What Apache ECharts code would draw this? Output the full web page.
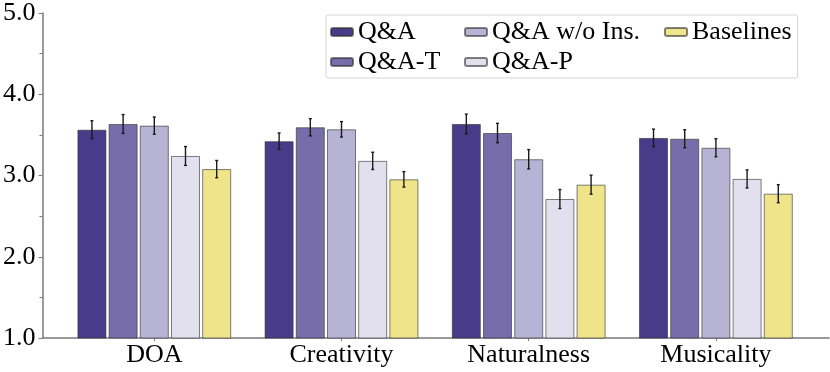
<!DOCTYPE html>
<html>
<head>
<meta charset="utf-8">
<script src="https://cdn.jsdelivr.net/npm/echarts@6/dist/echarts.min.js"></script>
<style>html,body{margin:0;padding:0;background:#fff}#c{width:830px;height:372px}</style>
</head>
<body>
<div id="c"></div>
<script>
const categories = ['DOA', 'Creativity', 'Naturalness', 'Musicality'];
const seriesNames = ['Q&A', 'Q&A-T', 'Q&A w/o Ins.', 'Q&A-P', 'Baselines'];
const seriesColors = ['#483c8a', '#776daa', '#b7b3d4', '#e2e0ee', '#efe48a'];
const qa       = [3.54, 3.40, 3.61, 3.44];
const qaT      = [3.61, 3.57, 3.50, 3.43];
const qaNoIns  = [3.59, 3.545, 3.18, 3.32];
const qaP      = [3.22, 3.16, 2.695, 2.94];
const baselines= [3.06, 2.935, 2.87, 2.76];
const qaErr       = [0.11, 0.10, 0.12, 0.107];
const qaTErr      = [0.115, 0.105, 0.118, 0.11];
const qaNoInsErr  = [0.105, 0.094, 0.118, 0.11];
const qaPErr      = [0.115, 0.105, 0.116, 0.11];
const baselinesErr= [0.105, 0.094, 0.116, 0.11];
const yTicks = [1, 2, 3, 4, 5];

const values = [qa, qaT, qaNoIns, qaP, baselines];
const errors = [qaErr, qaTErr, qaNoInsErr, qaPErr, baselinesErr];

const BAR_W = 0.155;   // fraction of band
const BAR_GAP = 0.075; // fraction of bar width
const FONT = 'Liberation Serif, Times New Roman, serif';
const AXIS_COLOR = '#7a7a7a';

const chart = echarts.init(document.getElementById('c'), null, {renderer: 'canvas'});

const series = [];
values.forEach((vals, i) => {
  series.push({
    name: seriesNames[i],
    type: 'bar',
    xAxisIndex: 0, yAxisIndex: 0,
    data: vals,
    barWidth: (BAR_W * 100) + '%',
    barGap: (BAR_GAP * 100) + '%',
    itemStyle: {color: seriesColors[i], borderColor: 'rgba(45,45,45,0.6)', borderWidth: 1},
    emphasis: {disabled: true},
    animation: false
  });
});
values.forEach((vals, i) => {
  series.push({
    type: 'custom',
    xAxisIndex: 0, yAxisIndex: 0,
    z: 10,
    silent: true,
    animation: false,
    data: vals.map((v, j) => [j, v, errors[i][j]]),
    renderItem: function (params, api) {
      const cat = api.value(0), mean = api.value(1), err = api.value(2);
      const band = api.size([1, 0])[0];
      const step = band * BAR_W * (1 + BAR_GAP);
      const off = (i - (values.length - 1) / 2) * step;
      const top = api.coord([cat, mean + err]);
      const bot = api.coord([cat, mean - err]);
      const x = top[0] + off;
      const cap = 1.5;
      const st = {stroke: '#1a1a1a', lineWidth: 1.4};
      return {
        type: 'group',
        children: [
          {type: 'line', shape: {x1: x, y1: top[1], x2: x, y2: bot[1]}, style: st},
          {type: 'line', shape: {x1: x - cap, y1: top[1], x2: x + cap, y2: top[1]}, style: st},
          {type: 'line', shape: {x1: x - cap, y1: bot[1], x2: x + cap, y2: bot[1]}, style: st}
        ]
      };
    }
  });
});

const legendText = {
  fontFamily: FONT, fontSize: 26, color: '#000', lineHeight: 24,
  padding: [1, 0, 1, 0], backgroundColor: 'rgba(255,255,255,0)'
};
const option = {
  backgroundColor: '#fff',
  animation: false,
  grid: [
    {left: 60.7, right: 20.5, top: 10, bottom: 34},
    {left: 42, right: 1, top: 10, bottom: 34}
  ],
  legend: {
    left: 326, top: 15,
    width: 490,
    padding: [4, 6, 3, 4],
    itemGap: 4,
    itemWidth: 22, itemHeight: 8,
    borderColor: '#d4d4d4', borderWidth: 1, borderRadius: 2,
    backgroundColor: '#fff',
    textStyle: legendText,
    data: [
      {name: 'Q&A', textStyle: Object.assign({}, legendText, {width: 102})},
      {name: 'Q&A w/o Ins.', textStyle: Object.assign({}, legendText, {width: 168})},
      {name: 'Baselines'},
      {name: 'Q&A-T', textStyle: Object.assign({}, legendText, {width: 102})},
      {name: 'Q&A-P'}
    ],
    selectedMode: false
  },
  xAxis: [
    {
      type: 'category', gridIndex: 0, data: categories,
      axisLine: {show: false},
      axisTick: {show: true, alignWithLabel: true, length: 3, lineStyle: {color: AXIS_COLOR, width: 1}},
      axisLabel: {fontFamily: FONT, fontSize: 26, color: '#000', margin: 4},
      splitLine: {show: false}
    },
    {
      type: 'value', gridIndex: 1, min: 0, max: 1,
      axisLine: {show: true, lineStyle: {color: AXIS_COLOR, width: 1.5}},
      axisTick: {show: false}, axisLabel: {show: false}, splitLine: {show: false}
    }
  ],
  yAxis: [
    {
      type: 'value', gridIndex: 0, min: yTicks[0], max: yTicks[yTicks.length - 1],
      show: false
    },
    {
      type: 'value', gridIndex: 1, min: yTicks[0], max: yTicks[yTicks.length - 1], interval: 1,
      axisLine: {show: true, lineStyle: {color: AXIS_COLOR, width: 1.5}},
      axisTick: {show: true, length: 4, lineStyle: {color: AXIS_COLOR, width: 1}},
      minorTick: {show: true, splitNumber: 2, length: 3, lineStyle: {color: AXIS_COLOR, width: 1}},
      axisLabel: {fontFamily: FONT, fontSize: 26, color: '#000', margin: 7, formatter: v => v.toFixed(1)},
      splitLine: {show: false}
    }
  ],
  series: series
};
chart.setOption(option);
</script>
</body>
</html>
